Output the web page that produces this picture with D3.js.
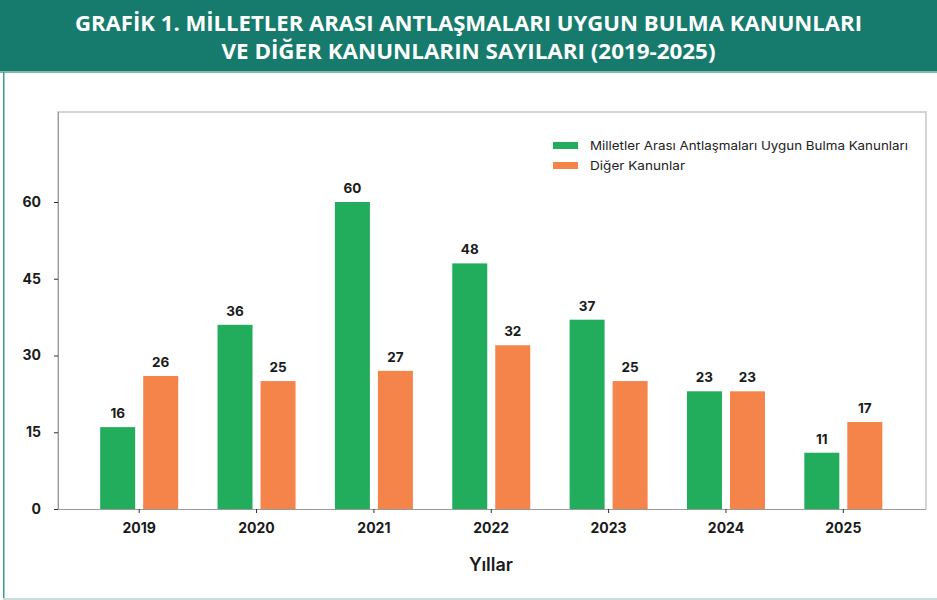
<!DOCTYPE html>
<html>
<head>
<meta charset="utf-8">
<script src="https://cdn.jsdelivr.net/npm/d3@7"></script>
<style>
  body { margin: 0; background: #fff; }
  svg { display: block; }
  .axis text { font-family: Inter, "Noto Sans", sans-serif; }
</style>
</head>
<body>
<div class="layout"></div>
<script>
// data
var years = ["2019", "2020", "2021", "2022", "2023", "2024", "2025"];
var mauKanun = [16, 36, 60, 48, 37, 23, 11];   // Milletler Arası Antlaşmaları Uygun Bulma Kanunları
var digerKanun = [26, 25, 27, 32, 25, 23, 17]; // Diğer Kanunlar
var seriesNames = ["Milletler Arası Antlaşmaları Uygun Bulma Kanunları", "Diğer Kanunlar"];
var yTicks = [0, 15, 30, 45, 60];
var titleLines = ["GRAFİK 1. MİLLETLER ARASI ANTLAŞMALARI UYGUN BULMA KANUNLARI",
                  "VE DİĞER KANUNLARIN SAYILARI (2019-2025)"];

var W = 937, H = 600;
var colors = ["#22ad5c", "#f4844a"];

var svg = d3.select(".layout").append("svg")
        .attr("width", W)
        .attr("height", H);

// header band + frame
svg.append("rect").attr("x", 0).attr("y", 0).attr("width", W).attr("height", 72).attr("fill", "#167b6c");
svg.append("rect").attr("x", 0).attr("y", 71).attr("width", W).attr("height", 2).attr("fill", "#7fb8ad");
svg.append("rect").attr("x", 3).attr("y", 72).attr("width", 1.5).attr("height", H - 72).attr("fill", "#3a9a8a");
svg.append("rect").attr("x", 3).attr("y", H - 2).attr("width", W).attr("height", 2).attr("fill", "#c9ded9");

var titleWidths = [787, 494];
titleLines.forEach(function(t, i) {
    svg.append("text")
            .attr("x", W / 2)
            .attr("y", 31 + i * 28)
            .attr("text-anchor", "middle")
            .attr("fill", "#fff")
            .attr("font-family", "'Liberation Sans Narrow', 'Open Sans', sans-serif")
            .attr("font-weight", "bold")
            .attr("font-size", 20.5)
            .attr("textLength", titleWidths[i])
            .attr("lengthAdjust", "spacingAndGlyphs")
            .text(t);
});

var plot = {left: 58, top: 112, right: 926, bottom: 509};

var x0 = d3.scaleBand()
        .domain(years)
        .range([80.5, 902])
        .padding(0);

var x1 = d3.scaleBand()
        .domain([0, 1])
        .range([0, 78])
        .paddingInner(0.186);

var y = d3.scaleLinear()
        .domain([0, 60])
        .range([plot.bottom, 202]);

// plot box (top and right edges)
svg.append("path")
        .attr("d", "M" + plot.left + "," + plot.bottom + "V" + plot.top + "H" + plot.right + "V" + plot.bottom)
        .attr("fill", "none")
        .attr("stroke", "#c8c8cc")
        .attr("stroke-width", 1.5);

var rows = years.map(function(yr, i) { return {year: yr, values: [mauKanun[i], digerKanun[i]]}; });

var groups = svg.append("g").selectAll("g")
        .data(rows)
        .enter().append("g")
        .attr("transform", function(d) { return "translate(" + (x0(d.year) + x0.bandwidth() / 2 - 39) + ",0)"; });

groups.selectAll("rect")
        .data(function(d) { return d.values.map(function(v, k) { return {k: k, v: v}; }); })
        .enter().append("rect")
        .attr("x", function(d) { return x1(d.k); })
        .attr("y", function(d) { return y(d.v); })
        .attr("width", x1.bandwidth())
        .attr("height", function(d) { return y(0) - y(d.v); })
        .attr("fill", function(d) { return colors[d.k]; });

groups.selectAll("text")
        .data(function(d) { return d.values.map(function(v, k) { return {k: k, v: v}; }); })
        .enter().append("text")
        .attr("x", function(d) { return x1(d.k) + x1.bandwidth() / 2; })
        .attr("y", function(d) { return y(d.v) - 9; })
        .attr("text-anchor", "middle")
        .attr("font-family", "Inter, 'Noto Sans', sans-serif")
        .attr("font-weight", "bold")
        .attr("font-size", 13.5)
        .attr("fill", "#1a1a1a")
        .text(function(d) { return d.v; });

// axes
var xAxis = d3.axisBottom(x0).tickSize(4).tickSizeOuter(0).tickPadding(10);
var gx = svg.append("g")
        .attr("class", "x axis")
        .attr("transform", "translate(0," + plot.bottom + ")")
        .call(xAxis);
gx.select(".domain").attr("d", "M" + plot.left + ",0.5H" + plot.right).attr("stroke", "#9a9a9a");
gx.selectAll(".tick line").attr("stroke", "#333");
gx.selectAll(".tick text").attr("font-size", 14).attr("font-weight", "bold").attr("fill", "#1a1a1a");

var yAxis = d3.axisLeft(y).tickValues(yTicks).tickSize(4).tickSizeOuter(0).tickPadding(13);
var gy = svg.append("g")
        .attr("class", "y axis")
        .attr("transform", "translate(" + plot.left + ",0)")
        .call(yAxis);
gy.select(".domain").attr("stroke", "#9a9a9a").attr("d", "M0.5," + plot.bottom + "V" + plot.top);
gy.selectAll(".tick line").attr("stroke", "#333");
gy.selectAll(".tick text").attr("font-size", 14).attr("font-weight", "bold").attr("fill", "#1a1a1a");

svg.append("text")
        .attr("x", 491)
        .attr("y", 571)
        .attr("text-anchor", "middle")
        .attr("font-family", "Inter, 'Noto Sans', sans-serif")
        .attr("font-size", 18)
        .attr("font-weight", 600)
        .attr("fill", "#1a1a1a")
        .text("Yıllar");

// legend
var legendWidths = [318, 95];
var legend = svg.append("g").attr("transform", "translate(553,142)");
seriesNames.forEach(function(name, i) {
    legend.append("rect")
            .attr("x", 0).attr("y", i * 20)
            .attr("width", 25).attr("height", 7)
            .attr("fill", colors[i]);
    legend.append("text")
            .attr("x", 37).attr("y", i * 20 + 8)
            .attr("font-family", "Inter, 'Noto Sans', sans-serif")
            .attr("font-size", 12)
            .attr("fill", "#222")
            .attr("textLength", legendWidths[i])
            .attr("lengthAdjust", "spacingAndGlyphs")
            .text(name);
});
</script>
</body>
</html>
